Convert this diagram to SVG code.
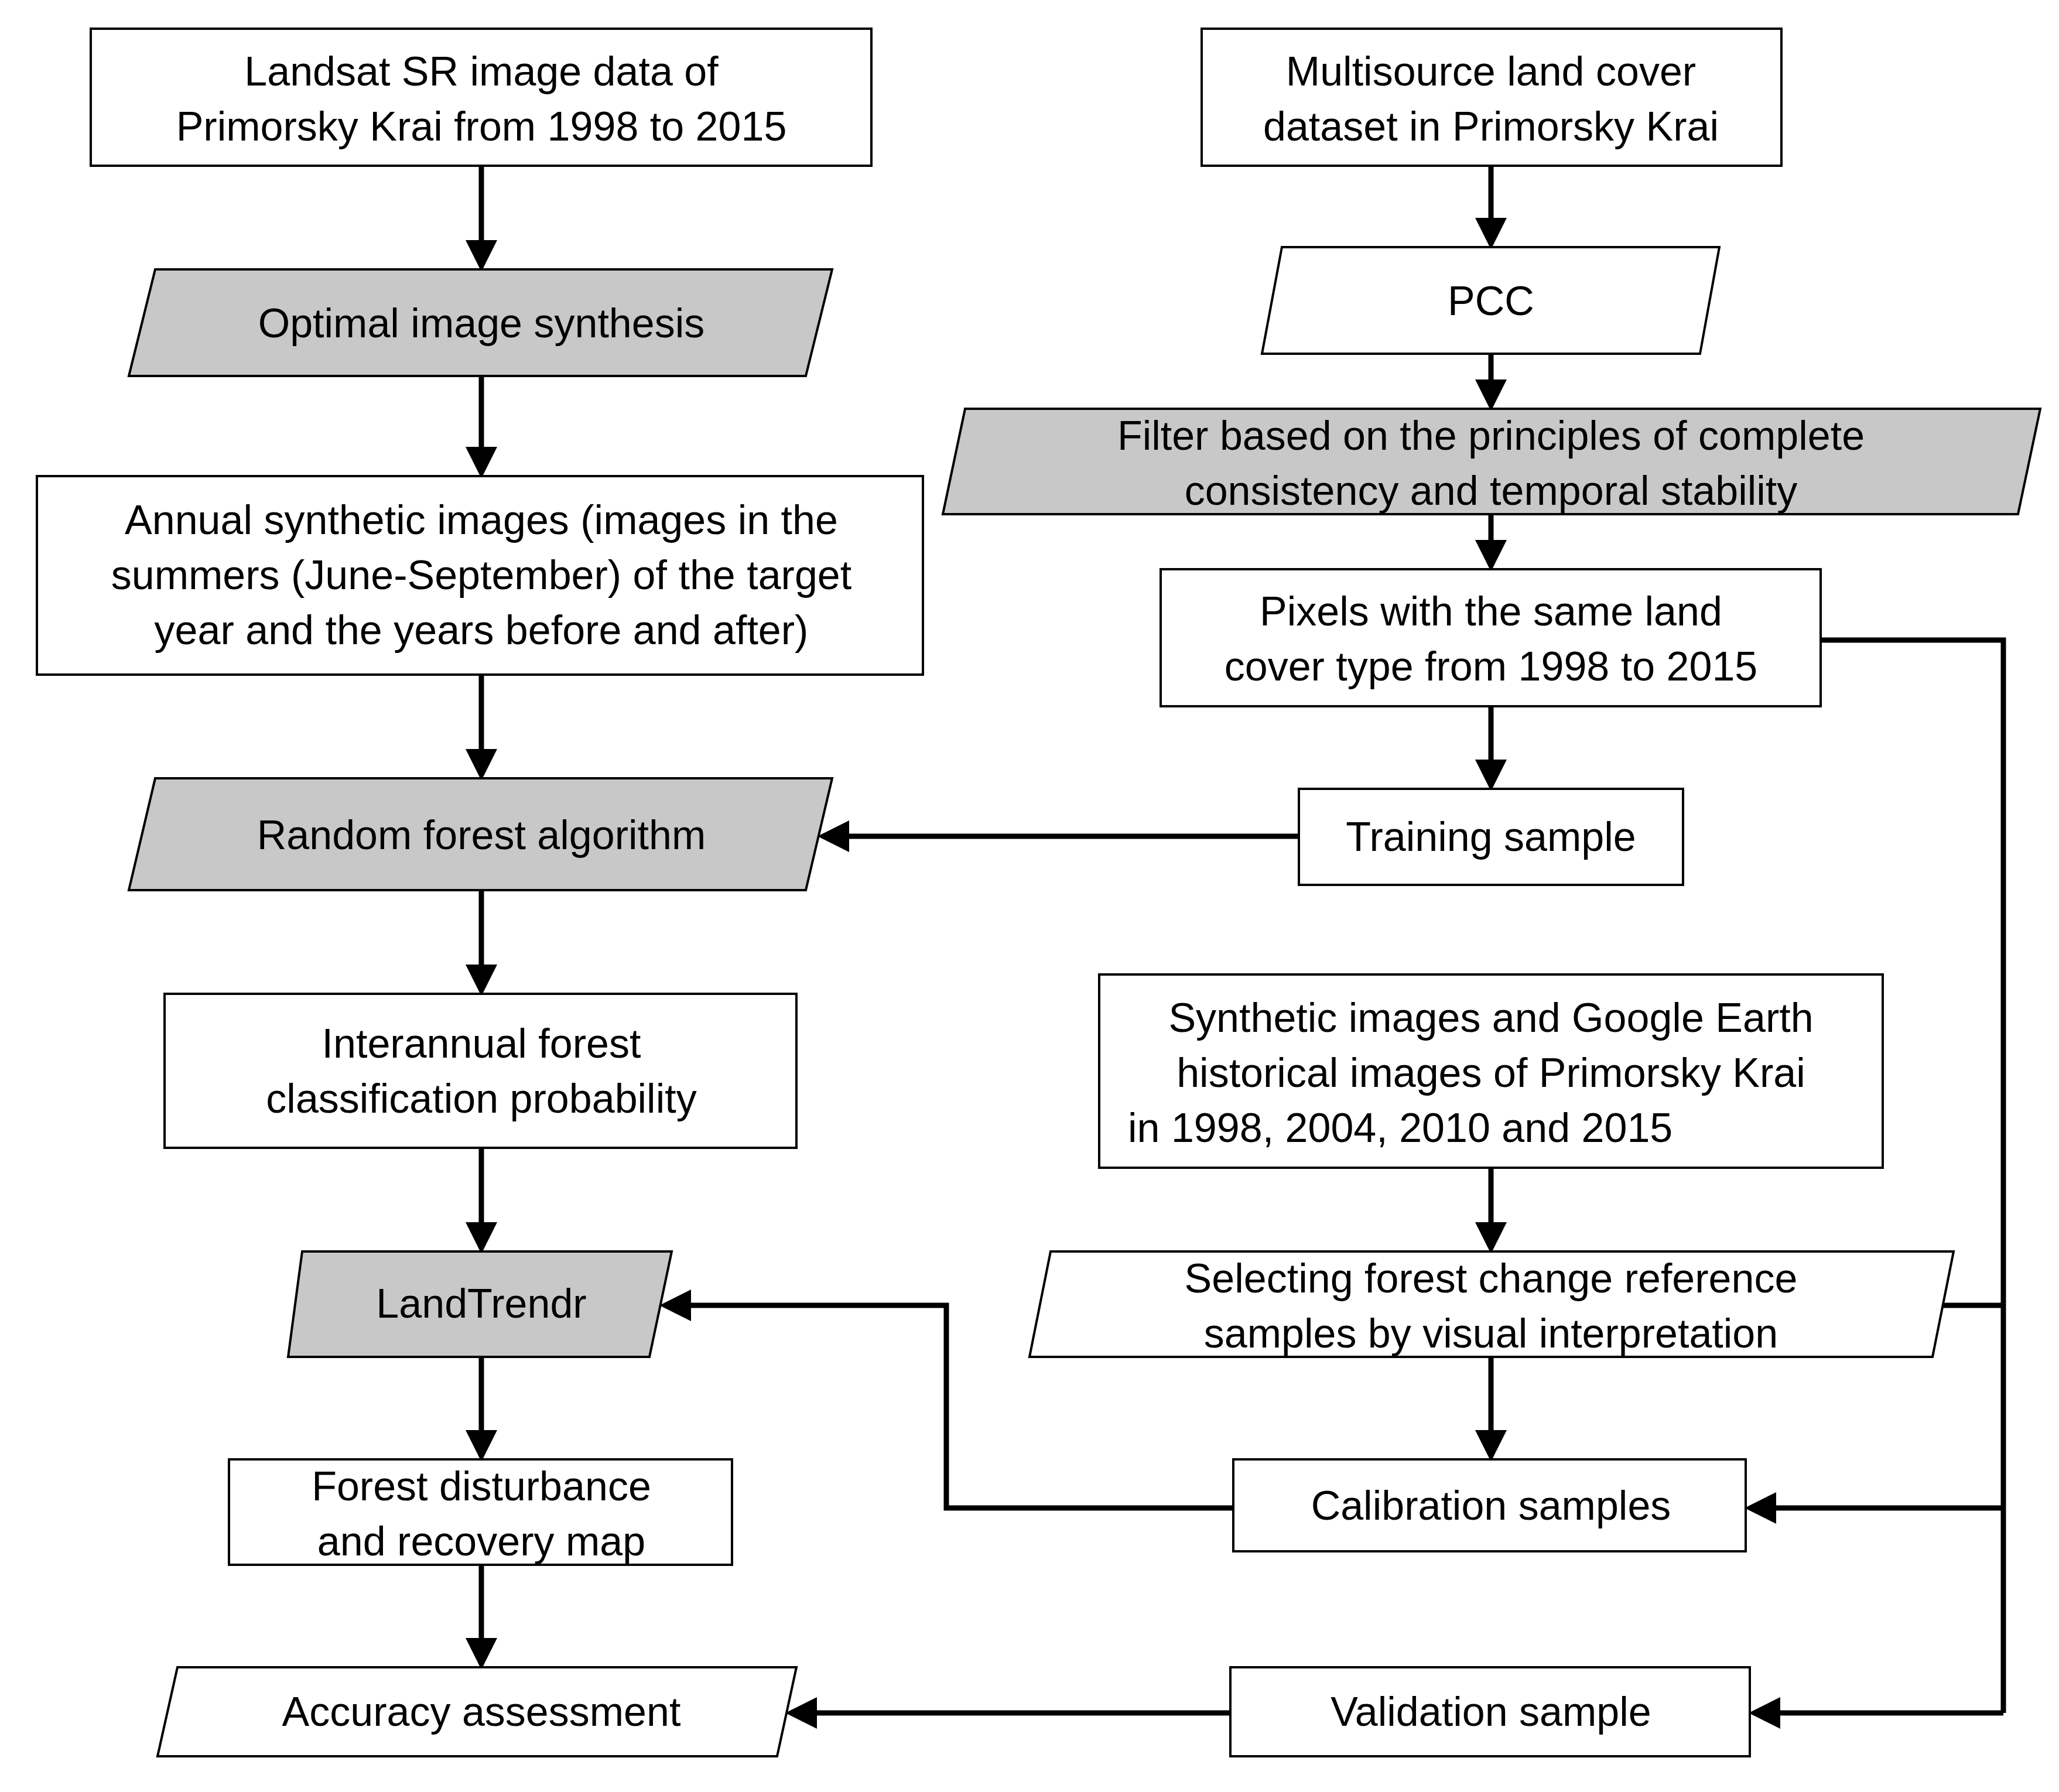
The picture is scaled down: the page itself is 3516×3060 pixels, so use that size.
<svg xmlns="http://www.w3.org/2000/svg" width="3516" height="3060" viewBox="0 0 3516 3060">
<style>
.b{fill:#fff;stroke:#000;stroke-width:4}
.g{fill:#c8c8c8;stroke:#000;stroke-width:4}
.w{fill:#fff;stroke:#000;stroke-width:4}
text{font-family:"Liberation Sans",Arial,sans-serif;font-size:70px;text-anchor:middle;fill:#000}
.c{fill:none;stroke:#000;stroke-width:9}
</style>
<defs><marker id="a" markerWidth="6" markerHeight="6" refX="5" refY="3" orient="auto" markerUnits="strokeWidth"><path d="M0,0L6,3L0,6z"/></marker></defs>
<rect width="3516" height="3060" fill="#fff"/>
<g id="connectors">
<line class="c" x1="822" y1="283" x2="822" y2="455" marker-end="url(#a)"/>
<line class="c" x1="822" y1="642" x2="822" y2="808" marker-end="url(#a)"/>
<line class="c" x1="822" y1="1152" x2="822" y2="1324" marker-end="url(#a)"/>
<line class="c" x1="822" y1="1520" x2="822" y2="1692" marker-end="url(#a)"/>
<line class="c" x1="822" y1="1960" x2="822" y2="2132" marker-end="url(#a)"/>
<line class="c" x1="822" y1="2317" x2="822" y2="2487" marker-end="url(#a)"/>
<line class="c" x1="822" y1="2672" x2="822" y2="2842" marker-end="url(#a)"/>
<line class="c" x1="2546" y1="283" x2="2546" y2="417" marker-end="url(#a)"/>
<line class="c" x1="2546" y1="604" x2="2546" y2="693" marker-end="url(#a)"/>
<line class="c" x1="2546" y1="878" x2="2546" y2="967" marker-end="url(#a)"/>
<line class="c" x1="2546" y1="1206" x2="2546" y2="1342" marker-end="url(#a)"/>
<line class="c" x1="2546" y1="1994" x2="2546" y2="2132" marker-end="url(#a)"/>
<line class="c" x1="2546" y1="2317" x2="2546" y2="2487" marker-end="url(#a)"/>
<line class="c" x1="2218" y1="1428" x2="1405" y2="1428" marker-end="url(#a)"/>
<polyline class="c" points="2106,2575 1616,2575 1616,2229 1135,2229" marker-end="url(#a)"/>
<line class="c" x1="2101" y1="2925" x2="1350" y2="2925" marker-end="url(#a)"/>
<polyline class="c" points="3109,1093 3421,1093 3421,2925"/>
<line class="c" x1="3318" y1="2229" x2="3421" y2="2229"/>
<line class="c" x1="3421" y1="2575" x2="2988" y2="2575" marker-end="url(#a)"/>
<line class="c" x1="3421" y1="2925" x2="2995" y2="2925" marker-end="url(#a)"/>
</g>
<g id="n1"><rect class="b" x="155" y="49" width="1333" height="234"/><text x="822" y="146">Landsat SR image data of</text><text x="822" y="240">Primorsky Krai from 1998 to 2015</text></g>
<g id="n2"><polygon class="g" points="265,460 1421,460 1376,642 220,642"/><text x="822" y="576">Optimal image synthesis</text></g>
<g id="n3"><rect class="b" x="63" y="813" width="1513" height="339"/><text x="822" y="912">Annual synthetic images (images in the</text><text x="822" y="1006">summers (June-September) of the target</text><text x="822" y="1100">year and the years before and after)</text></g>
<g id="n4"><polygon class="g" points="265,1329 1421,1329 1376,1520 220,1520"/><text x="822" y="1450">Random forest algorithm</text></g>
<g id="n5"><rect class="b" x="281" y="1697" width="1079" height="263"/><text x="822" y="1806">Interannual forest</text><text x="822" y="1900">classification probability</text></g>
<g id="n6"><polygon class="g" points="516,2137 1147,2137 1109,2317 492,2317"/><text x="822" y="2250">LandTrendr</text></g>
<g id="n7"><rect class="b" x="391" y="2492" width="859" height="180"/><text x="822" y="2562">Forest disturbance</text><text x="822" y="2656">and recovery  map</text></g>
<g id="n8"><polygon class="w" points="303,2847 1360,2847 1327,2999 269,2999"/><text x="822" y="2947">Accuracy assessment</text></g>
<g id="n9"><rect class="b" x="2052" y="49" width="990" height="234"/><text x="2546" y="146">Multisource land cover</text><text x="2546" y="240">dataset in Primorsky Krai</text></g>
<g id="n10"><polygon class="w" points="2189,422 2936,422 2903,604 2155,604"/><text x="2546" y="538">PCC</text></g>
<g id="n11"><polygon class="g" points="1648,698 3484,698 3446,878 1610,878"/><text x="2546" y="768">Filter based on the principles of complete</text><text x="2546" y="862">consistency and temporal stability</text></g>
<g id="n12"><rect class="b" x="1982" y="972" width="1127" height="234"/><text x="2546" y="1068">Pixels with the same land</text><text x="2546" y="1162">cover type from 1998 to 2015</text></g>
<g id="n13"><rect class="b" x="2218" y="1347" width="656" height="164"/><text x="2546" y="1453">Training sample</text></g>
<g id="n14"><rect class="b" x="1877" y="1664" width="1338" height="330"/><text x="2546" y="1762">Synthetic images and Google Earth</text><text x="2546" y="1856">historical images of Primorsky Krai</text><text x="2546" y="1950" style="text-anchor:start" dx="-620">in 1998, 2004, 2010 and 2015</text></g>
<g id="n15"><polygon class="w" points="1794,2137 3336,2137 3300,2317 1758,2317"/><text x="2546" y="2207">Selecting forest change reference</text><text x="2546" y="2301">samples by visual interpretation</text></g>
<g id="n16"><rect class="b" x="2106" y="2492" width="875" height="157"/><text x="2546" y="2595">Calibration samples</text></g>
<g id="n17"><rect class="b" x="2101" y="2847" width="887" height="152"/><text x="2546" y="2947">Validation sample</text></g>
</svg>
